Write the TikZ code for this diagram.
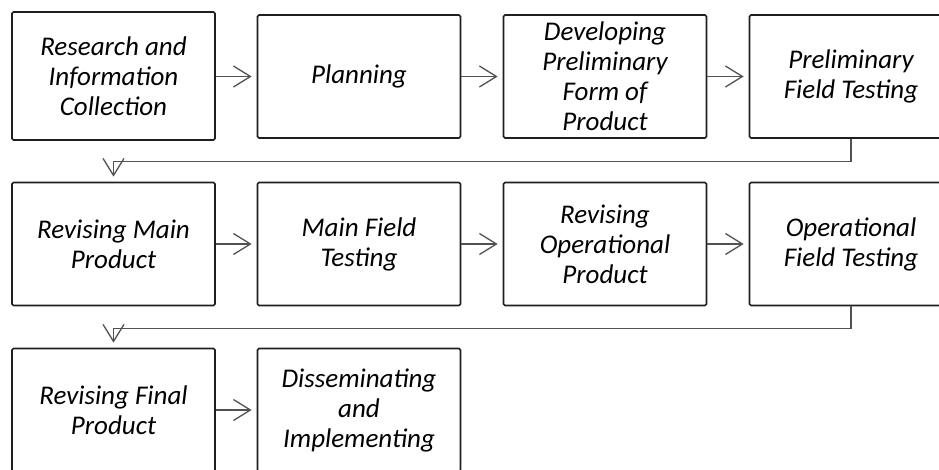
\documentclass[tikz,border=0pt]{standalone}
\usepackage{fontspec}
\setmainfont{Carlito}
\usetikzlibrary{arrows.meta}
\tikzset{
  stepbox/.style={draw=black!88, line width=1.7pt, rounded corners=1.5pt, minimum width=203pt, minimum height=123pt, inner sep=0pt,
    align=center, font=\fontsize{27}{30}\selectfont\itshape, text=black},
  arr/.style={draw=black!68, line width=1.3pt, -{Straight Barb[length=17pt,width=21pt,line width=1.3pt]}, shorten >=5pt},
  link/.style={draw=black!68, line width=1.3pt}
}
\begin{document}
\begin{tikzpicture}[x=1pt,y=-1pt]
\useasboundingbox (0,0) rectangle (939,470);
\clip (0,0) rectangle (939,470);
% row 1
\node[stepbox, minimum height=128pt] (a1) at (113.5,76) {Research and\\Information\\Collection};
\node[stepbox] (a2) at (359,76.5) {Planning};
\node[stepbox] (a3) at (605,76.5) {Developing\\Preliminary\\Form of\\Product};
\node[stepbox] (a4) at (851,76.5) {Preliminary\\Field Testing};
% row 2
\node[stepbox] (b1) at (113.5,244) {Revising Main\\Product};
\node[stepbox] (b2) at (359,244) {Main Field\\Testing};
\node[stepbox] (b3) at (605,244) {Revising\\Operational\\Product};
\node[stepbox] (b4) at (851,244) {Operational\\Field Testing};
% row 3
\node[stepbox] (c1) at (113.5,410) {Revising Final\\Product};
\node[stepbox] (c2) at (359,410) {Disseminating\\and\\Implementing};
% connectors
\draw[arr] (a1.east |- a2.east) -- (a2.east -| a2.west);
\draw[arr] (a2.east) -- (a3.west);
\draw[arr] (a3.east) -- (a4.west);
\draw[arr] (a4.south) -- ++(0,23) -| (b1.north);
\draw[arr] (b1.east) -- (b2.west);
\draw[arr] (b2.east) -- (b3.west);
\draw[arr] (b3.east) -- (b4.west);
\draw[arr] (b4.south) -- ++(0,22) -| (c1.north);
\draw[arr] (c1.east) -- (c2.west);
\end{tikzpicture}
\end{document}
